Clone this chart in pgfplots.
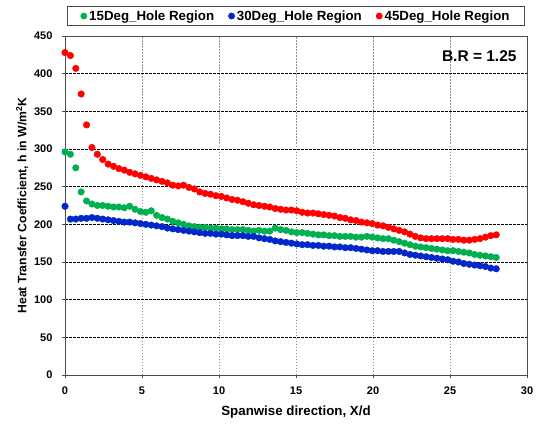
\documentclass[border=0pt]{standalone}
\usepackage{pgfplots}
\pgfplotsset{compat=1.18}
\usetikzlibrary{calc}
\usepackage{fontspec}
\setmainfont{Liberation Sans}
\definecolor{sgreen}{RGB}{0,176,80}
\definecolor{sblue}{RGB}{0,40,200}
\definecolor{sred}{RGB}{255,0,0}
\begin{document}
\begin{tikzpicture}
\begin{axis}[
  name=ax,
  scale only axis,
  width=462pt, height=339pt,
  xmin=0, xmax=30, ymin=0, ymax=450,
  xtick={0,5,...,30}, ytick={0,50,...,450},
  tick label style={font=\fontsize{11}{13}\selectfont\bfseries},
  /pgf/number format/assume math mode=true,
  xticklabel shift=5pt, yticklabel shift=6pt,
  xmajorgrids, ymajorgrids,
  x grid style={dash pattern=on 1.5pt off 1.5pt, gray!85, line width=0.6pt},
  y grid style={dash pattern=on 2.5pt off 1.5pt, black, line width=0.6pt},
  axis line style={gray!60!black, line width=1pt},
  tick align=outside,
  major tick length=3pt,
  tick style={gray!60!black, line width=0.6pt},
  xtick pos=bottom, ytick pos=left,
  xlabel={\fontsize{13.3}{15}\selectfont\bfseries Spanwise direction, X/d},
  ylabel={\fontsize{12.2}{14}\selectfont\bfseries Heat Transfer Coefficient, h in W/m\textsuperscript{2}K},
  xlabel style={yshift=-5pt},
  ylabel style={yshift=-1pt},
  legend columns=3,
  legend style={at={(0.5,1)}, yshift=10pt, anchor=south, draw=gray!60!black, line width=0.8pt,
    font=\fontsize{13.3}{15}\selectfont\bfseries, inner xsep=13pt, inner ysep=1pt,
    nodes={inner xsep=2pt, inner ysep=3pt},
    /tikz/every even column/.append style={column sep=12pt}},
  legend image code/.code={\fill[#1] (0pt,0pt) circle (3pt);},
  legend cell align=left,
]
\addplot[only marks, mark=*, mark size=3.3pt, color=sgreen] coordinates {
(0,296)(0.35,293)(0.7,275)(1.05,243)(1.4,231)(1.75,227)(2.1,225)(2.45,225)(2.8,224)(3.15,223)
(3.5,223)(3.85,222)(4.2,224)(4.55,220)(4.9,217)(5.25,216)(5.6,218)(5.95,212)(6.3,209)(6.65,207)
(7.0,204)(7.35,202)(7.7,200)(8.05,198)(8.4,197)(8.75,196)(9.1,196)(9.45,195)(9.8,195)(10.15,194)
(10.5,194)(10.85,193)(11.2,193)(11.55,193)(11.9,192)(12.25,191)(12.6,192)(12.95,191)(13.3,191)(13.65,195)
(14.0,193)(14.35,192)(14.7,190)(15.05,189)(15.4,189)(15.75,188)(16.1,187)(16.45,186)(16.8,186)(17.15,185)
(17.5,185)(17.85,184)(18.2,184)(18.55,184)(18.9,183)(19.25,183)(19.6,184)(19.95,183)(20.3,182)(20.65,181)
(21.0,181)(21.35,179)(21.7,177)(22.05,175)(22.4,173)(22.75,171)(23.1,170)(23.45,169)(23.8,168)(24.15,167)
(24.5,166)(24.85,165)(25.2,165)(25.55,164)(25.9,163)(26.25,162)(26.6,160)(26.95,159)(27.3,158)(27.65,157)
(28.0,156)
};
\addlegendentry{15Deg\_Hole Region}
\addplot[only marks, mark=*, mark size=3.3pt, color=sblue] coordinates {
(0,224)(0.35,207)(0.7,207)(1.05,208)(1.4,208)(1.75,209)(2.1,208)(2.45,207)(2.8,206)(3.15,205)
(3.5,204)(3.85,203)(4.2,203)(4.55,202)(4.9,201)(5.25,200)(5.6,199)(5.95,198)(6.3,197)(6.65,195)
(7.0,194)(7.35,193)(7.7,192)(8.05,191)(8.4,190)(8.75,189)(9.1,188)(9.45,188)(9.8,187)(10.15,187)
(10.5,186)(10.85,185)(11.2,185)(11.55,185)(11.9,184)(12.25,184)(12.6,182)(12.95,181)(13.3,180)(13.65,178)
(14.0,177)(14.35,176)(14.7,175)(15.05,174)(15.4,173)(15.75,173)(16.1,172)(16.45,172)(16.8,171)(17.15,171)
(17.5,170)(17.85,170)(18.2,169)(18.55,169)(18.9,168)(19.25,167)(19.6,166)(19.95,165)(20.3,165)(20.65,164)
(21.0,164)(21.35,164)(21.7,164)(22.05,162)(22.4,160)(22.75,159)(23.1,158)(23.45,157)(23.8,156)(24.15,155)
(24.5,154)(24.85,153)(25.2,151)(25.55,150)(25.9,148)(26.25,147)(26.6,146)(26.95,145)(27.3,144)(27.65,142)
(28.0,141)
};
\addlegendentry{30Deg\_Hole Region}
\addplot[only marks, mark=*, mark size=3.3pt, color=sred] coordinates {
(0,428)(0.35,424)(0.7,407)(1.05,373)(1.4,332)(1.75,302)(2.1,293)(2.45,286)(2.8,280)(3.15,277)
(3.5,274)(3.85,272)(4.2,269)(4.55,267)(4.9,265)(5.25,263)(5.6,261)(5.95,259)(6.3,257)(6.65,255)
(7.0,252)(7.35,251)(7.7,252)(8.05,249)(8.4,247)(8.75,243)(9.1,241)(9.45,240)(9.8,238)(10.15,237)
(10.5,235)(10.85,233)(11.2,232)(11.55,230)(11.9,228)(12.25,226)(12.6,225)(12.95,224)(13.3,223)(13.65,221)
(14.0,220)(14.35,219)(14.7,219)(15.05,218)(15.4,216)(15.75,215)(16.1,215)(16.45,214)(16.8,213)(17.15,212)
(17.5,211)(17.85,209)(18.2,208)(18.55,206)(18.9,205)(19.25,203)(19.6,202)(19.95,201)(20.3,199)(20.65,198)
(21.0,196)(21.35,194)(21.7,192)(22.05,190)(22.4,187)(22.75,184)(23.1,182)(23.45,181)(23.8,181)(24.15,181)
(24.5,181)(24.85,181)(25.2,180)(25.55,180)(25.9,179)(26.25,179)(26.6,180)(26.95,181)(27.3,183)(27.65,185)
(28.0,186)
};
\addlegendentry{45Deg\_Hole Region}
\node[anchor=east, font=\fontsize{15.5}{17}\selectfont\bfseries] at (axis cs:29.55,423) {B.R = 1.25};
\end{axis}
\pgfresetboundingbox
\path ($(ax.south west)+(-65pt,-51pt)$) rectangle ($(ax.north east)+(13pt,36pt)$);
\end{tikzpicture}
\end{document}
